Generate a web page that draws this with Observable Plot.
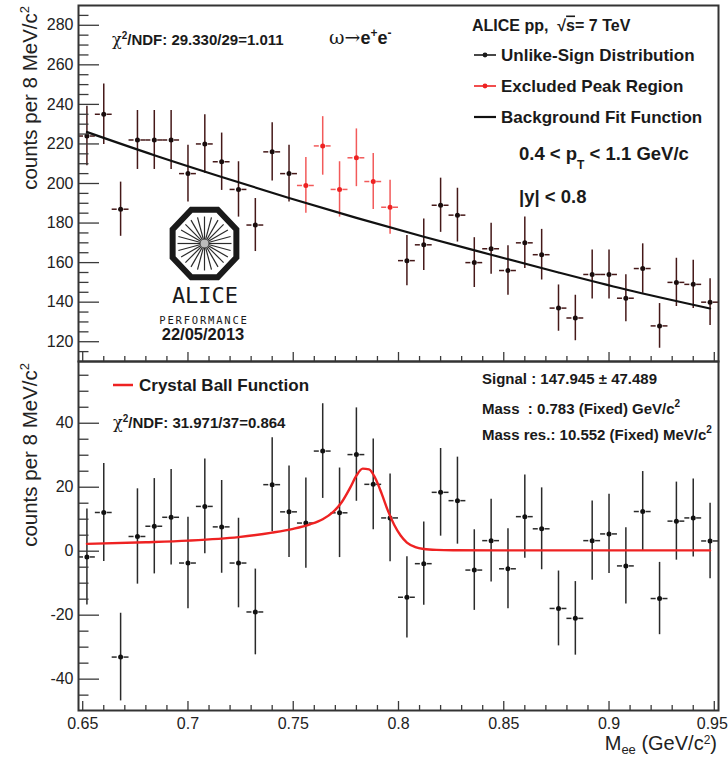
<!DOCTYPE html>
<html><head><meta charset="utf-8">
<script src="https://cdn.jsdelivr.net/npm/d3@7"></script>
<script src="https://cdn.jsdelivr.net/npm/@observablehq/plot@0.6"></script>
<style>
body{margin:0;background:#fff;}
#wrap{position:relative;width:728px;height:757px;overflow:hidden;background:#fff;}
#wrap > svg{position:absolute;left:0;top:0;}
</style></head><body><div id="wrap"></div>
<script>
// ---- data ----
const massBins = [0.652,0.660,0.668,0.676,0.684,0.692,0.700,0.708,0.716,0.724,0.732,0.740,0.748,0.756,0.764,0.772,0.780,0.788,0.796,0.804,0.812,0.820,0.828,0.836,0.844,0.852,0.860,0.868,0.876,0.884,0.892,0.900,0.908,0.916,0.924,0.932,0.940,0.948];
const binWidth = 0.008;
const unlikeCounts = [224,235,187,222,222,222,205,220,211,197,179,216,205,199,219,197,213,201,188,161,169,189,184,160,167,156,170,164,137,132,154,154,142,157,128,150,149,140];
const countErrors = [15.0,15.3,13.7,14.9,14.9,14.9,14.3,14.8,14.5,14.0,13.4,14.7,14.3,14.1,14.8,14.0,14.6,14.2,13.7,12.7,13.0,13.7,13.6,12.6,12.9,12.5,13.0,12.8,11.7,11.5,12.4,12.4,11.9,12.5,11.3,12.2,12.2,11.8];
const peakRegion = [0.752, 0.800];
const signalCounts = [-1.8,12.1,-33.1,4.6,7.8,10.6,-3.7,14.0,7.6,-3.7,-19.0,20.8,12.3,8.8,31.3,12.0,30.2,20.9,10.4,-14.4,-3.9,18.4,15.8,-5.9,3.3,-5.5,10.8,7.0,-17.9,-21.0,3.3,5.4,-4.6,12.4,-14.8,9.4,10.4,3.2];
const signalErrors = [15.0,15.3,13.7,14.9,14.9,14.9,14.3,14.8,14.5,14.0,13.4,14.7,14.3,14.1,14.8,14.0,14.6,14.2,13.7,12.7,13.0,13.7,13.6,12.6,12.9,12.5,13.0,12.8,11.7,11.5,12.4,12.4,11.9,12.5,11.3,12.2,12.2,11.8];
const bgFitMass = [0.652,0.684,0.716,0.748,0.780,0.812,0.844,0.876,0.908,0.948];
const bgFitCounts = [226.0,214.3,203.3,192.7,182.6,173.1,164.0,155.0,146.4,136.8];
const cbFitMass = [0.652,0.680,0.700,0.724,0.740,0.750,0.758,0.764,0.769,0.773,0.777,0.780,0.783,0.786,0.789,0.792,0.795,0.798,0.801,0.804,0.808,0.812,0.818,0.826,0.850,0.948];
const cbFitCounts = [2.3,2.8,3.3,4.4,5.8,7.0,8.4,10.0,12.3,15.3,19.8,23.6,25.8,25.6,22.8,18.0,12.6,8.2,4.9,2.7,1.3,0.7,0.4,0.3,0.25,0.25];

// ---- ticks ----
const xMajor = [0.65,0.7,0.75,0.8,0.85,0.9,0.95];
const xLabels = ["0.65","0.7","0.75","0.8","0.85","0.9","0.95"];
const topYMajor = [120,140,160,180,200,220,240,260,280];
const topYLabels = ["120","140","160","180","200","220","240","260","280"];
const botYMajor = [-40,-20,0,20,40];
const botYLabels = ["-40","-20","0","20","40"];
const xMinor = d3.range(66, 95).filter(v => v % 5 !== 0).map(v => v / 100);
const topYMinor = d3.range(115, 290, 5).filter(v => v % 20 !== 0);
const botYMinor = d3.range(-45, 60, 5).filter(v => v % 20 !== 0);

const xDomain = [0.648, 0.952];
const FONT = '"Liberation Sans", Arial, Helvetica, sans-serif';
const fmt = (ticks, labels) => { const m = new Map(ticks.map((t, i) => [t, labels[i]])); return d => m.get(d); };

const topRows = massBins.map((m, i) => ({m, c: unlikeCounts[i], e: countErrors[i]}));
const keptRows = topRows.filter(d => !(d.m > peakRegion[0] && d.m < peakRegion[1]));
const exclRows = topRows.filter(d => d.m > peakRegion[0] && d.m < peakRegion[1]);
const botRows = massBins.map((m, i) => ({m, c: signalCounts[i], e: signalErrors[i]}));
const bgRows = bgFitMass.map((m, i) => ({m, c: bgFitCounts[i]}));
const cbRows = cbFitMass.map((m, i) => ({m, c: cbFitCounts[i]}));

function pointMarks(rows, lineColor, dotColor) {
  return [
    Plot.ruleX(rows, {x: "m", y1: d => d.c - d.e, y2: d => d.c + d.e, stroke: lineColor, strokeWidth: 1.5}),
    Plot.ruleY(rows, {y: "c", x1: d => d.m - binWidth / 2, x2: "m", insetRight: 3.4, stroke: lineColor, strokeWidth: 1.5}),
    Plot.ruleY(rows, {y: "c", x1: "m", x2: d => d.m + binWidth / 2, insetLeft: 3.4, stroke: lineColor, strokeWidth: 1.5}),
    Plot.dot(rows, {x: "m", y: "c", r: 2.5, fill: dotColor, stroke: "none"})
  ];
}
function axisMarks(yMajor, yLabels, yMinor, withXLabels) {
  const tc = "#3a3a3a";
  const marks = [
    Plot.axisY(yMajor, {anchor: "left", tickSize: -21, tickFormat: () => "", stroke: tc, strokeWidth: 1.3, label: null}),
    Plot.axisY(yMinor, {anchor: "left", tickSize: -10.5, tickFormat: () => "", stroke: tc, strokeWidth: 1.3, label: null}),
    Plot.axisY(yMajor, {anchor: "left", tickSize: 0, tickPadding: 5, tickFormat: fmt(yMajor, yLabels), fill: "#222", label: null}),
    Plot.axisX(xMajor, {anchor: "bottom", tickSize: -9, tickFormat: () => "", stroke: tc, strokeWidth: 1.3, label: null}),
    Plot.axisX(xMinor, {anchor: "bottom", tickSize: -5, tickFormat: () => "", stroke: tc, strokeWidth: 1.3, label: null})
  ];
  if (withXLabels) {
    const inner = xMajor.slice(0, -1), last = xMajor.slice(-1);
    marks.push(Plot.axisX(inner, {anchor: "bottom", tickSize: 0, tickPadding: 7, tickFormat: fmt(xMajor, xLabels), fill: "#222", label: null}));
    marks.push(Plot.axisX(last, {anchor: "bottom", tickSize: 0, tickPadding: 7, dx: -2, tickFormat: fmt(xMajor, xLabels), fill: "#222", label: null}));
  }
  return marks;
}
const baseStyle = {fontFamily: FONT, fontSize: "16px", background: "transparent", overflow: "visible", color: "#222"};

const topPlot = Plot.plot({
  width: 728, height: 757,
  marginLeft: 78, marginRight: 10, marginTop: 5, marginBottom: 396,
  style: baseStyle,
  x: {domain: xDomain},
  y: {domain: [110, 290]},
  marks: [
    ...pointMarks(keptRows, "#451818", "#1a0d0d"),
    ...pointMarks(exclRows, "#f25a5a", "#ee2222"),
    Plot.line(bgRows, {x: "m", y: "c", stroke: "#111", strokeWidth: 2.2, curve: "monotone-x"}),
    ...axisMarks(topYMajor, topYLabels, topYMinor, false),
    Plot.frame({stroke: "#333", strokeWidth: 2})
  ]
});
const botPlot = Plot.plot({
  width: 728, height: 757,
  marginLeft: 78, marginRight: 10, marginTop: 361, marginBottom: 47,
  style: baseStyle,
  x: {domain: xDomain},
  y: {domain: [-49.8, 59.3]},
  marks: [
    ...pointMarks(botRows, "#2a2a2a", "#111"),
    Plot.line(cbRows, {x: "m", y: "c", stroke: "#ee2222", strokeWidth: 2.4, curve: "monotone-x"}),
    ...axisMarks(botYMajor, botYLabels, botYMinor, true),
    Plot.frame({stroke: "#333", strokeWidth: 2})
  ]
});
const wrap = document.getElementById("wrap");
wrap.appendChild(topPlot);
wrap.appendChild(botPlot);

// ---- ALICE logo (decoration) ----
function octagon(cx, cy, r, sy) {
  const pts = d3.range(8).map(k => {
    const a = Math.PI / 8 + k * Math.PI / 4;
    return [cx + r * Math.cos(a), cy + r * Math.sin(a) * sy];
  });
  return "M" + pts.map(p => p.join(",")).join("L") + "Z";
}
function spokes(cx, cy, r0, r1, n) {
  return d3.range(n).map(k => {
    const a = k * 2 * Math.PI / n;
    return `<line x1="${cx + r0 * Math.cos(a)}" y1="${cy + r0 * Math.sin(a)}" x2="${cx + r1 * Math.cos(a)}" y2="${cy + r1 * Math.sin(a)}"/>`;
  }).join("");
}
const SERIF = '"DejaVu Serif", "Liberation Serif", serif';
const overlay = `
<svg width="728" height="757" xmlns="http://www.w3.org/2000/svg" font-family='${FONT}' fill="#1a1a1a">
  <!-- top panel annotations -->
  <text x="112" y="45" font-size="15" font-weight="bold"><tspan font-family='${SERIF}' font-weight="normal" font-size="16">χ</tspan><tspan dy="-6" font-size="10">2</tspan><tspan dy="6">/NDF: 29.330/29=1.011</tspan></text>
  <text x="329" y="44" font-size="18" font-weight="bold"><tspan font-family='${SERIF}' font-weight="normal" font-size="19">ω→</tspan><tspan>e</tspan><tspan dy="-7" font-size="12">+</tspan><tspan dy="7">e</tspan><tspan dy="-7" font-size="12">-</tspan></text>
  <text x="472" y="30.5" font-size="16" font-weight="bold">ALICE pp,&#160; √<tspan text-decoration="overline">s</tspan>= 7 TeV</text>
  <g stroke-width="1.6">
    <line x1="474" x2="496" y1="55" y2="55" stroke="#1a1a1a"/><circle cx="485" cy="55" r="2.4" fill="#1a1a1a"/>
    <line x1="474" x2="496" y1="86" y2="86" stroke="#ee2222"/><circle cx="485" cy="86" r="2.4" fill="#ee2222"/>
    <line x1="474" x2="496" y1="117" y2="117" stroke="#111" stroke-width="2.2"/>
  </g>
  <g font-size="17" font-weight="bold">
    <text x="501" y="61">Unlike-Sign Distribution</text>
    <text x="501" y="92">Excluded Peak Region</text>
    <text x="501" y="123">Background Fit Function</text>
  </g>
  <text x="519" y="160" font-size="18.5" font-weight="bold">0.4 &lt; p<tspan dy="9" font-size="12">T</tspan><tspan dy="-9"> &lt; 1.1 GeV/c</tspan></text>
  <text x="519" y="203" font-size="18.5" font-weight="bold">|y| &lt; 0.8</text>
  <!-- logo -->
  <g fill="none" stroke="#1a1a1a">
    <path d="${octagon(204.5, 243.5, 34.5, 1.06)}" stroke-width="6" stroke-linejoin="miter"/>
    <g stroke="#2a2a2a" stroke-width="1.2">${spokes(204.5, 243.5, 2, 27, 24)}</g>
    <circle cx="204.5" cy="243.5" r="4" fill="#bbb" stroke="none"/>
  </g>
  <text x="205" y="303" text-anchor="middle" font-family='"DejaVu Sans Mono", monospace' font-size="22">ALICE</text>
  <text x="204" y="323.5" text-anchor="middle" font-family='"DejaVu Sans Mono", monospace' font-size="10.5" letter-spacing="1.8">PERFORMANCE</text>
  <text x="203" y="340" text-anchor="middle" font-size="16.5" font-weight="bold">22/05/2013</text>
  <!-- bottom panel annotations -->
  <line x1="113" x2="133" y1="385" y2="385" stroke="#ee2222" stroke-width="2.5"/>
  <text x="139" y="391" font-size="17" font-weight="bold">Crystal Ball Function</text>
  <text x="113" y="428" font-size="15" font-weight="bold"><tspan font-family='${SERIF}' font-weight="normal" font-size="16">χ</tspan><tspan dy="-6" font-size="10">2</tspan><tspan dy="6">/NDF: 31.971/37=0.864</tspan></text>
  <g font-size="15" font-weight="bold">
    <text x="482" y="384">Signal : 147.945 ± 47.489</text>
    <text x="482" y="414">Mass&#160; : 0.783 (Fixed) GeV/c<tspan dy="-7" font-size="10">2</tspan></text>
    <text x="482" y="440">Mass res.: 10.552 (Fixed) MeV/c<tspan dy="-7" font-size="10">2</tspan></text>
  </g>
  <!-- axis titles -->
  <text transform="translate(37,6) rotate(-90)" text-anchor="end" font-size="20.5" fill="#222">counts per 8 MeV/c<tspan dy="-8" font-size="13">2</tspan></text>
  <text transform="translate(37,363) rotate(-90)" text-anchor="end" font-size="20.5" fill="#222">counts per 8 MeV/c<tspan dy="-8" font-size="13">2</tspan></text>
  <text x="717" y="750" text-anchor="end" font-size="20" fill="#222">M<tspan dy="4" font-size="13">ee</tspan><tspan dy="-4"> (GeV/c</tspan><tspan dy="-6.5" font-size="12">2</tspan><tspan dy="6.5">)</tspan></text>
</svg>`;
wrap.insertAdjacentHTML("beforeend", overlay);
</script></body></html>
